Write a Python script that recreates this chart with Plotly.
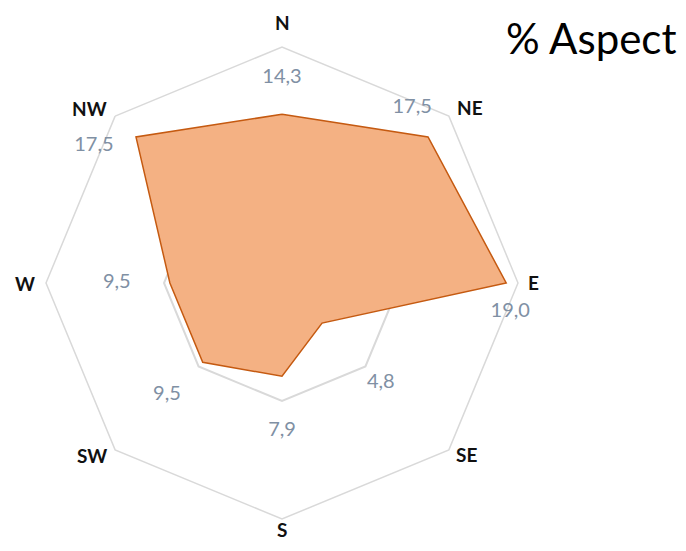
import math
import plotly.graph_objects as go

directions = ["N", "NE", "E", "SE", "S", "SW", "W", "NW"]
aspect_pct = [14.3, 17.5, 19.0, 4.8, 7.9, 9.5, 9.5, 17.5]
value_labels = ["14,3", "17,5", "19,0", "4,8", "7,9", "9,5", "9,5", "17,5"]

# label placement (radius in data units, angle in degrees clockwise from N)
label_r = [17.4, 18.5, 19.5, 11.9, 12.5, 13.6, 14.0, 19.7]
label_theta = [0, 36.6, 97.2, 135.3, 180, 225.8, 270, 306]
dir_label_r = [22.1, 21.8, 21.3, 21.4, 20.9, 21.7, 21.8, 22.0]
dir_label_theta = [0, 47.1, 90, 132.9, 180, 227.8, 270, 312.3]

R_MAX = 20

# page body has an 8px margin; figure coordinates are page coords - 8
W, H = 670, 535
cx, cy, R = 274, 275, 236
px_per_unit = R / R_MAX

fig = go.Figure()
fig.add_trace(go.Scatterpolar(
    r=aspect_pct + aspect_pct[:1],
    theta=directions + directions[:1],
    mode="lines",
    fill="toself",
    fillcolor="#F4B183",
    line=dict(color="#C55A11", width=1.5),
    hoverinfo="skip",
    showlegend=False,
    subplot="polar",
))
fig.add_trace(go.Scatterpolar(
    r=label_r,
    theta=label_theta,
    mode="text",
    text=value_labels,
    textfont=dict(family="Lato", size=20, color="#8090A4"),
    hoverinfo="skip",
    showlegend=False,
    cliponaxis=False,
    subplot="polar2",
))

dom = dict(x=[(cx - R) / W, (cx + R) / W],
           y=[(H - cy - R) / H, (H - cy + R) / H])

annotations = []
for name, rr, th in zip(directions, dir_label_r, dir_label_theta):
    a = math.radians(th)
    px = cx + rr * px_per_unit * math.sin(a)
    py = cy - rr * px_per_unit * math.cos(a)
    annotations.append(dict(
        text=f"<b>{name}</b>", x=px / W, y=1 - py / H,
        xref="paper", yref="paper", xanchor="center", yanchor="middle",
        showarrow=False, borderpad=0,
        font=dict(family="Lato", size=19, color="#111111"),
    ))
annotations.append(dict(
    text="% Aspect", x=670 / W, y=1 - 30 / H, xref="paper", yref="paper",
    xanchor="right", yanchor="middle", showarrow=False,
    font=dict(family="Lato", size=42, color="#000000"),
))

fig.update_layout(
    width=W, height=H,
    margin=dict(l=0, r=0, t=0, b=0),
    paper_bgcolor="white",
    plot_bgcolor="white",
    polar=dict(
        domain=dom,
        bgcolor="white",
        gridshape="linear",
        radialaxis=dict(range=[0, R_MAX], dtick=10, showticklabels=False,
                        ticks="", showline=False, gridcolor="#D9D9D9",
                        gridwidth=1.5),
        angularaxis=dict(direction="clockwise", rotation=90,
                         type="category", categoryarray=directions,
                         showgrid=False, showline=True, linecolor="#D9D9D9",
                         linewidth=1.5, ticks="", showticklabels=False),
    ),
    polar2=dict(
        domain=dom,
        bgcolor="rgba(0,0,0,0)",
        radialaxis=dict(range=[0, R_MAX], visible=False),
        angularaxis=dict(direction="clockwise", rotation=90, visible=False),
    ),
    annotations=annotations,
)

fig.write_html("out.html")
